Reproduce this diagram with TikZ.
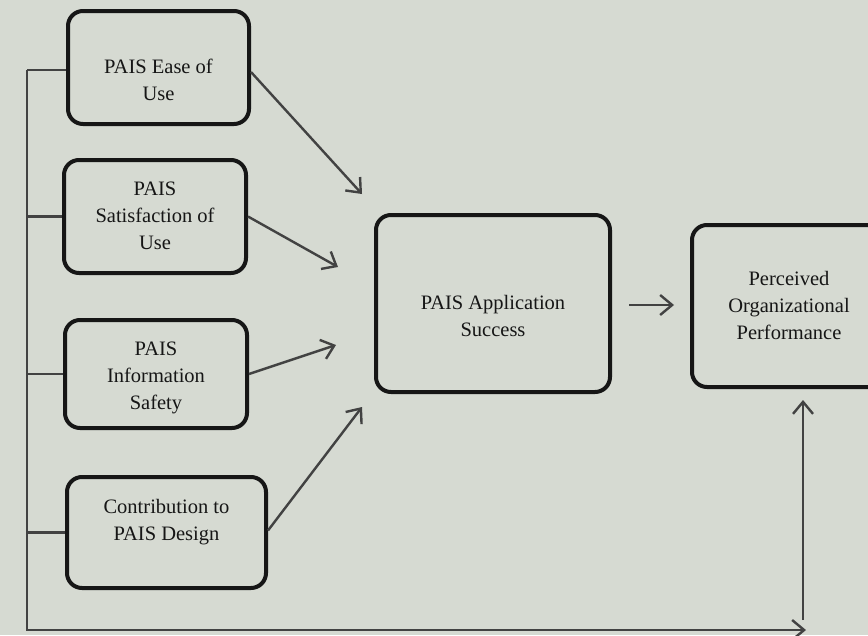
\documentclass[tikz,border=0pt]{standalone}
\usepackage{fontspec}
\setmainfont{Liberation Serif}
\usetikzlibrary{arrows.meta,calc}
\definecolor{paper}{RGB}{214,218,210}
\definecolor{ink}{RGB}{22,22,22}
\definecolor{lineink}{RGB}{66,66,66}
\newcommand\bxt[2]{\raisebox{#1}[0pt][0pt]{\begin{tabular}{@{}c@{}}#2\end{tabular}}}
\begin{document}
\begin{tikzpicture}[x=1pt,y=-1pt,
  box/.style={draw=ink, line width=4pt, rounded corners=15pt, inner sep=0pt,
              font=\fontsize{20.5}{27}\selectfont, text=ink},
  link/.style={draw=lineink, line width=2.4pt},
  arr/.style={link, -{Straight Barb[length=12pt,width=20pt,line width=2.4pt]}}]
\fill[paper] (0,0) rectangle (868,635);
\useasboundingbox (0,0) rectangle (868,635);

\node[box, minimum width=181pt, minimum height=113pt] (b1) at (158.5,67.5)
  {\bxt{-19.5pt}{PAIS Ease of\\Use}};
\node[box, minimum width=182pt, minimum height=113pt] (b2) at (155,216.5)
  {\bxt{-5.5pt}{PAIS\\Satisfaction of\\Use}};
\node[box, minimum width=182pt, minimum height=108pt] (b3) at (156,374)
  {\bxt{-8pt}{PAIS\\Information\\Safety}};
\node[box, minimum width=199pt, minimum height=111pt] (b4) at (166.5,532.5)
  {\bxt{5.5pt}{Contribution to\\PAIS Design}};
\node[box, minimum width=234pt, minimum height=177pt] (c) at (493,303.5)
  {\bxt{-19pt}{PAIS Application\\Success}};
\node[box, minimum width=194pt, minimum height=162pt] (r) at (789,306)
  {\bxt{-6pt}{Perceived\\Organizational\\Performance}};

% arrow ends
\coordinate (e1) at (362,194);
\coordinate (e2) at (338,267);
\coordinate (e3) at (336,345);
\coordinate (e4) at (362,407);
\draw[arr] ($(b1.east)+(0,4.5)$) -- (e1);
\draw[arr] (b2.east) -- (e2);
\draw[arr] (b3.east) -- (e3);
\draw[arr] ($(b4.east)+(0,-2)$) -- (e4);
\draw[arr] ($(c.east)+(17,1.5)$) -- ($(r.west)+(-16,-1)$);

% feedback trunk
\coordinate (top) at (27,70);
\coordinate (bot) at (27,630);
\coordinate (br) at (806,630);
\coordinate (vb) at (803,620);
\draw[link] (top) -- (top -| b1.west);
\draw[link] (b2.west) -- (b2.west -| top);
\draw[link] (b3.west) -- (b3.west -| top);
\draw[link] (b4.west) -- (b4.west -| top);
\draw[arr, line join=miter] (top) -- (bot) -- (br);
\draw[arr] (vb) -- ($(r.south)+(14,11)$);
\end{tikzpicture}
\end{document}
